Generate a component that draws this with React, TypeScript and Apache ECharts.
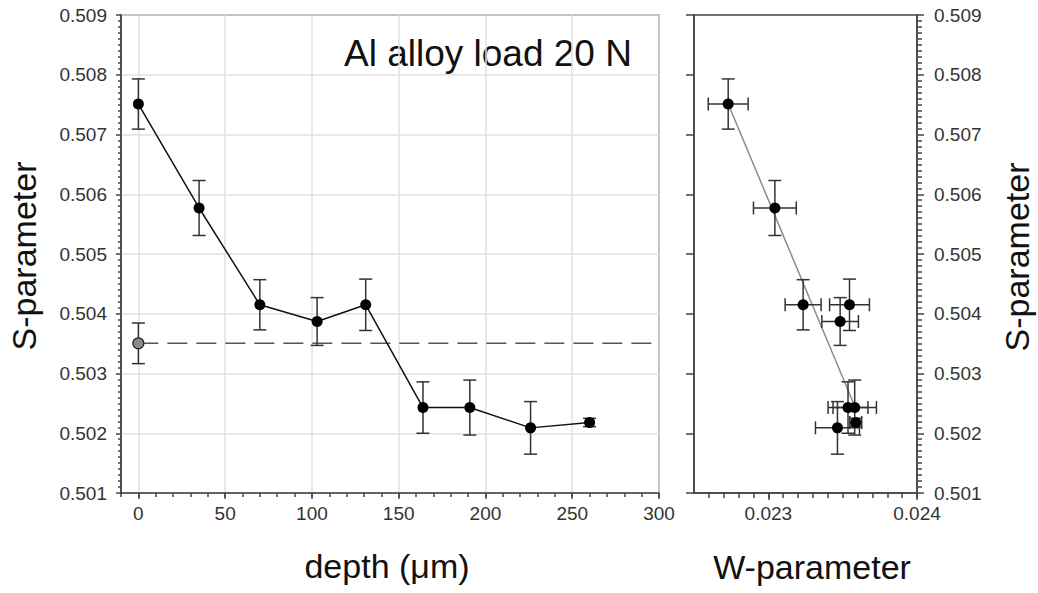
import React, { useEffect, useRef } from "react";
import * as echarts from "echarts";

// depth profile (left panel)
const depth = [0, 35, 70, 103, 131, 164, 191, 226, 260];
const sValues = [0.50751, 0.50577, 0.50415, 0.50387, 0.50415, 0.50243, 0.50243, 0.50209, 0.50218];
const sErr = [0.00042, 0.00046, 0.00042, 0.0004, 0.00043, 0.00043, 0.00046, 0.00044, 0.00007];
// reference (grey) point
const refDepth = 0;
const refS = 0.503505;
const refErr = 0.00034;
// S–W plot (right panel)
const wValues = [0.02273, 0.023044, 0.023234, 0.023483, 0.023546, 0.023536, 0.023581, 0.023465, 0.023588];
const wErr = [0.000134, 0.000144, 0.000121, 0.000123, 0.000134, 0.000134, 0.000146, 0.000148, 0.00004];
const fitW = [0.02273, 0.023575];
const fitS = [0.50751, 0.50249];
// tick labels
const depthTicks = [0, 50, 100, 150, 200, 250, 300];
const wTicks = [0.023, 0.024];
const wMinorTicks = [0.0226, 0.0227, 0.0228, 0.0229, 0.023, 0.0231, 0.0232, 0.0233, 0.0234, 0.0235, 0.0236, 0.0237, 0.0238, 0.0239, 0.024];

const FONT = 'Arial, "Liberation Sans", sans-serif';
const AX = "#444";
const LBL = "#333";

function errRenderer(horizontal: boolean) {
  return (params: any, api: any) => {
    const x = api.value(0);
    const y = api.value(1);
    const ey = api.value(2);
    const ex = api.value(3);
    const style = { stroke: "#333", lineWidth: 1.5 };
    const cap = 6.5;
    const t = api.coord([x, y + ey]);
    const b = api.coord([x, y - ey]);
    const children: any[] = [
      { type: "line", shape: { x1: t[0], y1: t[1], x2: b[0], y2: b[1] }, style },
      { type: "line", shape: { x1: t[0] - cap, y1: t[1], x2: t[0] + cap, y2: t[1] }, style },
      { type: "line", shape: { x1: b[0] - cap, y1: b[1], x2: b[0] + cap, y2: b[1] }, style },
    ];
    if (horizontal) {
      const l = api.coord([x - ex, y]);
      const r = api.coord([x + ex, y]);
      children.push(
        { type: "line", shape: { x1: l[0], y1: l[1], x2: r[0], y2: r[1] }, style },
        { type: "line", shape: { x1: l[0], y1: l[1] - cap, x2: l[0], y2: l[1] + cap }, style },
        { type: "line", shape: { x1: r[0], y1: r[1] - cap, x2: r[0], y2: r[1] + cap }, style }
      );
    }
    return { type: "group", children };
  };
}

export default function App() {
  const ref = useRef<HTMLDivElement>(null);
  useEffect(() => {
    document.body.style.margin = "0";
    const chart = echarts.init(ref.current!, null, { renderer: "svg" });
    const axisLine = { show: true, onZero: false, lineStyle: { color: AX, width: 1.5 } };
    const tickStyle = { color: AX, width: 1.5 };
    const sAxisBase = { type: "value", min: 0.501, max: 0.509, interval: 0.001 };
    chart.setOption({
      animation: false,
      textStyle: { fontFamily: FONT },
      grid: [
        { left: 121, top: 15, width: 538, height: 478, show: true, borderColor: AX, borderWidth: 1.5 },
        { left: 694, top: 15, width: 223, height: 478, show: true, borderColor: AX, borderWidth: 1.5 },
      ],
      xAxis: [
        {
          gridIndex: 0, type: "value", min: -10, max: 300, position: "bottom",
          axisLine,
          axisTick: { show: true, customValues: depthTicks, length: 6, lineStyle: tickStyle },
          axisLabel: { customValues: depthTicks, fontSize: 19, color: LBL, margin: 11, fontFamily: FONT },
          splitLine: { show: true, lineStyle: { color: "#e0e0e0", width: 1.5 } },
        },
        {
          gridIndex: 0, type: "value", min: -10, max: 300, interval: 10, position: "bottom",
          axisLine: { show: false, onZero: false },
          axisTick: { show: true, length: 4, lineStyle: tickStyle },
          axisLabel: { show: false },
          splitLine: { show: false },
        },
        {
          gridIndex: 1, type: "value", min: 0.0225, max: 0.024, position: "bottom",
          axisLine,
          axisTick: { show: true, customValues: wTicks, length: 7, lineStyle: tickStyle },
          axisLabel: { customValues: wTicks, fontSize: 19, color: LBL, margin: 11, fontFamily: FONT, formatter: (v: number) => v.toFixed(3) },
          splitLine: { show: false },
        },
        {
          gridIndex: 1, type: "value", min: 0.0225, max: 0.024, position: "bottom",
          axisLine: { show: false, onZero: false },
          axisTick: { show: true, customValues: wMinorTicks, length: 5, lineStyle: tickStyle },
          axisLabel: { show: false },
          splitLine: { show: false },
        },
      ],
      yAxis: [
        {
          ...sAxisBase, gridIndex: 0, position: "left",
          axisLine,
          axisTick: { show: true, length: 5, lineStyle: tickStyle },
          minorTick: { show: true, splitNumber: 10, length: 3, lineStyle: tickStyle },
          axisLabel: { fontSize: 19, color: LBL, margin: 14, fontFamily: FONT, formatter: (v: number) => v.toFixed(3) },
          splitLine: { show: true, lineStyle: { color: "#e0e0e0", width: 1.5 } },
        },
        {
          ...sAxisBase, gridIndex: 1, position: "left",
          axisLine,
          axisTick: { show: true, length: 8, lineStyle: tickStyle },
          axisLabel: { show: false },
          splitLine: { show: false },
        },
        {
          ...sAxisBase, gridIndex: 1, position: "right",
          axisLine,
          axisTick: { show: true, length: 7, lineStyle: tickStyle },
          minorTick: { show: true, splitNumber: 10, length: 5, lineStyle: tickStyle },
          axisLabel: { fontSize: 19, color: LBL, margin: 17, fontFamily: FONT, formatter: (v: number) => v.toFixed(3) },
          splitLine: { show: false },
        },
      ],
      series: [
        {
          type: "line", xAxisIndex: 0, yAxisIndex: 0, symbol: "none", silent: true,
          data: [[refDepth, refS], [300, refS]],
          lineStyle: { color: "#555", width: 1.5, type: [20, 9] },
          z: 2,
        },
        {
          type: "custom", xAxisIndex: 0, yAxisIndex: 0, renderItem: errRenderer(false),
          data: depth.map((d, i) => [d, sValues[i], sErr[i], 0]).concat([[refDepth, refS, refErr, 0]]),
          z: 3,
        },
        {
          type: "line", xAxisIndex: 0, yAxisIndex: 0,
          data: depth.map((d, i) => [d, sValues[i]]),
          symbol: "circle", symbolSize: 11,
          itemStyle: { color: "#000", opacity: 1 },
          lineStyle: { color: "#111", width: 1.5 },
          z: 4,
        },
        {
          type: "scatter", xAxisIndex: 0, yAxisIndex: 0,
          data: [[refDepth, refS]], symbolSize: 11,
          itemStyle: { color: "#8a8a8a", borderColor: "#222", borderWidth: 1.2, opacity: 1 },
          z: 5,
        },
        {
          type: "line", xAxisIndex: 2, yAxisIndex: 2, symbol: "none",
          data: fitW.map((w, i) => [w, fitS[i]]),
          lineStyle: { color: "#8c8c8c", width: 1.5 },
          z: 2,
        },
        {
          type: "custom", xAxisIndex: 2, yAxisIndex: 2, renderItem: errRenderer(true),
          data: wValues.map((w, i) => [w, sValues[i], sErr[i], wErr[i]]),
          z: 3,
        },
        {
          type: "scatter", xAxisIndex: 2, yAxisIndex: 2,
          data: wValues.map((w, i) => [w, sValues[i]]), symbolSize: 11,
          itemStyle: { color: "#000", opacity: 1 },
          z: 4,
        },
      ],
      graphic: [
        { type: "text", x: 344, y: 53, style: { text: "Al alloy load 20 N", font: `37px ${FONT}`, fill: "#111", textAlign: "left", textVerticalAlign: "middle" } },
        { type: "text", x: 24, y: 256, rotation: Math.PI / 2, style: { text: "S-parameter", font: `34px ${FONT}`, fill: "#111", textAlign: "center", textVerticalAlign: "middle" } },
        { type: "text", x: 1017, y: 257, rotation: Math.PI / 2, style: { text: "S-parameter", font: `34px ${FONT}`, fill: "#111", textAlign: "center", textVerticalAlign: "middle" } },
        { type: "text", x: 387, y: 566, style: { text: "depth (μm)", font: `34px ${FONT}`, fill: "#111", textAlign: "center", textVerticalAlign: "middle" } },
        { type: "text", x: 812, y: 567, style: { text: "W-parameter", font: `34px ${FONT}`, fill: "#111", textAlign: "center", textVerticalAlign: "middle" } },
      ],
    });
    return () => chart.dispose();
  }, []);
  return <div ref={ref} style={{ width: 1038, height: 593 }} />;
}
